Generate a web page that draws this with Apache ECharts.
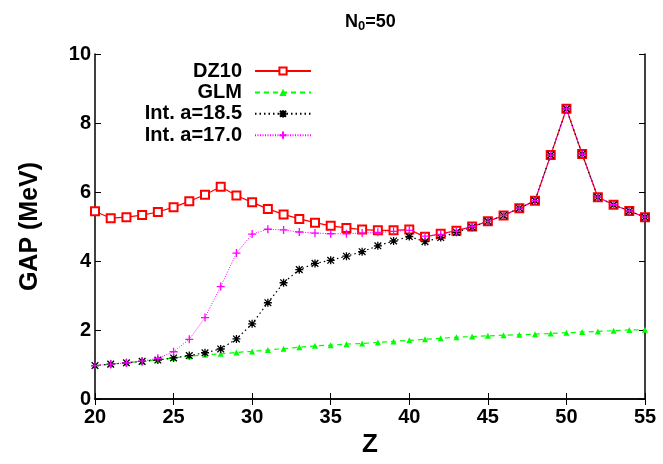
<!DOCTYPE html>
<html>
<head>
<meta charset="utf-8">
<script src="https://cdn.jsdelivr.net/npm/echarts@6/dist/echarts.min.js"></script>
<style>
html,body{margin:0;padding:0;background:#fff;}
#chart{width:663px;height:464px;}
</style>
</head>
<body>
<div id="chart"></div>
<script>
var zValues = [20,21,22,23,24,25,26,27,28,29,30,31,32,33,34,35,36,37,38,39,40,41,42,43,44,45,46,47,48,49,50,51,52,53,54,55];
var dz10 = [5.44,5.24,5.27,5.33,5.42,5.56,5.73,5.92,6.15,5.90,5.70,5.51,5.35,5.22,5.11,5.02,4.96,4.91,4.89,4.89,4.91,4.70,4.79,4.88,5.00,5.15,5.32,5.53,5.75,7.07,8.41,7.10,5.85,5.63,5.45,5.27];
var glm = [0.97,1.01,1.05,1.09,1.14,1.19,1.24,1.28,1.31,1.35,1.38,1.42,1.46,1.50,1.54,1.56,1.59,1.61,1.64,1.67,1.70,1.73,1.76,1.79,1.81,1.83,1.85,1.86,1.88,1.90,1.92,1.94,1.96,1.98,2.00,2.01];
var int185 = [0.97,1.01,1.05,1.09,1.13,1.19,1.26,1.34,1.45,1.74,2.18,2.79,3.37,3.75,3.93,4.02,4.14,4.27,4.44,4.58,4.71,4.56,4.68,4.83,4.98,5.15,5.32,5.53,5.75,7.07,8.41,7.10,5.85,5.63,5.45,5.27];
var int170 = [0.97,1.01,1.05,1.10,1.18,1.37,1.73,2.36,3.26,4.23,4.78,4.92,4.90,4.84,4.81,4.79,4.79,4.81,4.83,4.86,4.89,4.72,4.77,4.86,5.00,5.15,5.32,5.53,5.75,7.07,8.41,7.10,5.85,5.63,5.45,5.27];
var seriesNames = ['DZ10','GLM','Int. a=18.5','Int. a=17.0'];
var xTicks = {min:20, max:55, interval:5};
var yTicks = {min:0, max:10, interval:2};

function pairs(vals){ return zValues.map(function(z,i){ return [z, vals[i]]; }); }

var FONT = 'Liberation Sans';
var chart = echarts.init(document.getElementById('chart'), null, {renderer:'canvas'});
var axisLine = {show:true, lineStyle:{color:'#000', width:1.5}};
var tick = {show:true, inside:true, length:6, lineStyle:{color:'#000', width:1}};
var asterisk = 'path://M0,0L10,10M10,0L0,10M5,-1L5,11M-1,5L11,5';
var plus = 'path://M5,0L5,10M0,5L10,5';

chart.setOption({
  animation:false,
  backgroundColor:'#fff',
  title:{
    text:'{n|N}{s|0}{n|=50}',
    left:340, top:7,
    textStyle:{rich:{
      n:{fontFamily:FONT, fontWeight:'bold', fontSize:18, color:'#000'},
      s:{fontFamily:FONT, fontWeight:'bold', fontSize:13, color:'#000', padding:[8,0,0,0]}
    }}
  },
  legend:{
    orient:'vertical', align:'right', right:351, top:61, padding:0,
    itemWidth:56, itemHeight:9, itemGap:1.4,
    textStyle:{fontFamily:FONT, fontWeight:'bold', fontSize:20, color:'#000', lineHeight:14, padding:[0,8,0,0]},
    data:seriesNames
  },
  grid:{left:95, right:18, top:54, bottom:65, containLabel:false},
  xAxis:[{
    type:'value', min:xTicks.min, max:xTicks.max, interval:xTicks.interval,
    name:'Z', nameLocation:'middle', nameGap:30,
    nameTextStyle:{fontFamily:FONT, fontWeight:'bold', fontSize:26, color:'#000'},
    axisLine:axisLine, axisTick:tick, splitLine:{show:false},
    axisLabel:{fontFamily:FONT, fontWeight:'bold', fontSize:20, color:'#000', margin:8}
  },{
    type:'value', position:'top', min:xTicks.min, max:xTicks.max, interval:xTicks.interval,
    axisLine:axisLine, axisTick:tick, splitLine:{show:false}, axisLabel:{show:false}
  }],
  yAxis:[{
    type:'value', min:yTicks.min, max:yTicks.max, interval:yTicks.interval,
    name:'GAP (MeV)', nameLocation:'middle', nameGap:52,
    nameTextStyle:{fontFamily:FONT, fontWeight:'bold', fontSize:25, color:'#000'},
    axisLine:axisLine, axisTick:tick, splitLine:{show:false},
    axisLabel:{fontFamily:FONT, fontWeight:'bold', fontSize:20, color:'#000', margin:4}
  },{
    type:'value', position:'right', min:yTicks.min, max:yTicks.max, interval:yTicks.interval,
    axisLine:axisLine, axisTick:tick, splitLine:{show:false}, axisLabel:{show:false}
  }],
  series:[{
    name:seriesNames[0], type:'line', data:pairs(dz10),
    symbol:'emptyRect', symbolSize:8,
    itemStyle:{color:'#ff0000', borderColor:'#ff0000', borderWidth:1},
    lineStyle:{color:'#ff0000', width:1.2}
  },{
    name:seriesNames[1], type:'line', data:pairs(glm),
    symbol:'triangle', symbolSize:6,
    itemStyle:{color:'#00ff00'},
    lineStyle:{color:'#00ff00', width:1.2, type:[5,4]}
  },{
    name:seriesNames[2], type:'line', data:pairs(int185),
    symbol:asterisk, symbolSize:8,
    itemStyle:{color:'#000', borderColor:'#000', borderWidth:1.3},
    lineStyle:{color:'#000', width:1.2, type:[1.5,3]}
  },{
    name:seriesNames[3], type:'line', data:pairs(int170),
    symbol:plus, symbolSize:8,
    itemStyle:{color:'#ff00ff', borderColor:'#ff00ff', borderWidth:1.3},
    lineStyle:{color:'#ff00ff', width:1, type:[1,1.5]}
  }]
});
</script>
</body>
</html>
